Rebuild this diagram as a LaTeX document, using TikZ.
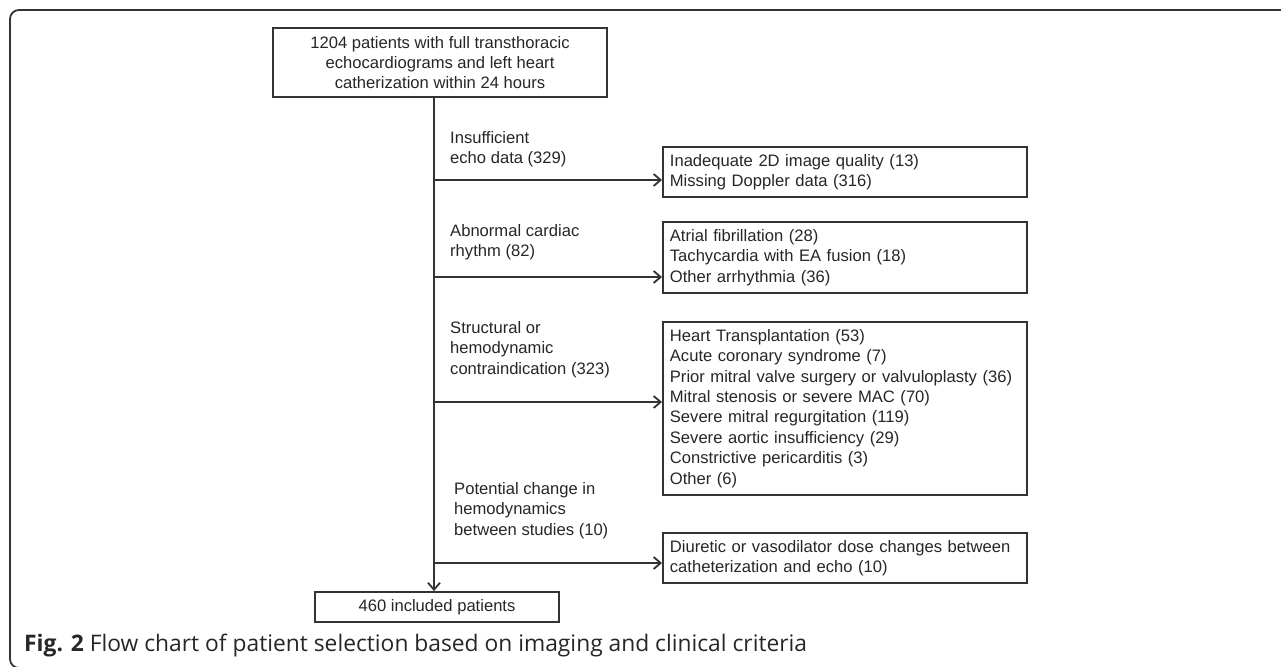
\documentclass[tikz,border=0pt]{standalone}
\usepackage{fontspec}
\setmainfont{Liberation Sans}
\newfontfamily\capfont{Open Sans}
\usetikzlibrary{arrows.meta}
\begin{document}
\begin{tikzpicture}[x=1pt,y=-1pt,
    every node/.style={font=\fontsize{16.6}{20.4}\selectfont, text=black!85},
    box/.style={draw=black!80, line width=1.8pt, inner sep=0pt},
    sidebox/.style={box, anchor=west, align=left, text width=350pt, inner xsep=7pt},
    crit/.style={anchor=north west, align=left, inner sep=0pt},
    conn/.style={draw=black!80, line width=1.8pt},
    flow/.style={conn, -{Straight Barb[length=7pt,width=12pt,line width=1.8pt]}}]
  \useasboundingbox (0,0) rectangle (1281,666);
  \begin{scope}
    \clip (0,0) rectangle (1281,666);
    \draw[conn, rounded corners=9pt] (1300,10) -- (10,10) -- (10,668) -- (60,668);
  \end{scope}

  \node[box, minimum width=334pt, minimum height=69pt, align=center] (total) at (440,62.5)
    {1204 patients with full transthoracic\\echocardiograms and left heart\\catherization within 24 hours};
  \node[sidebox, minimum height=50pt] (echo) at (662,172)
    {Inadequate 2D image quality (13)\\Missing Doppler data (316)};
  \node[sidebox, minimum height=71pt] (rhythm) at (662,257.5)
    {Atrial fibrillation (28)\\Tachycardia with EA fusion (18)\\Other arrhythmia (36)};
  \node[sidebox, minimum height=173pt] (struct) at (662,408.5)
    {Heart Transplantation (53)\\Acute coronary syndrome (7)\\Prior mitral valve surgery or valvuloplasty (36)\\Mitral stenosis or severe MAC (70)\\Severe mitral regurgitation (119)\\Severe aortic insufficiency (29)\\Constrictive pericarditis (3)\\Other (6)};
  \node[sidebox, minimum height=50pt] (hemo) at (662,558)
    {Diuretic or vasodilator dose changes between\\catheterization and echo (10)};
  \node[box, minimum width=244pt, minimum height=30pt] (incl) at (437,607) {460 included patients};

  \node[crit] (l1) at (450,131) {Insufficient\\echo data (329)};
  \node[crit] (l2) at (450,224) {Abnormal cardiac\\rhythm (82)};
  \node[crit] (l3) at (450,321) {Structural or\\hemodynamic\\contraindication (323)};
  \node[crit] (l4) at (454,482) {Potential change in\\hemodynamics\\between studies (10)};

  \coordinate (c1) at (434,180);
  \coordinate (c2) at (434,277);
  \coordinate (c3) at (434,402);
  \coordinate (c4) at (434,563);
  \draw[flow] (total.south -| c1) -- (incl.north -| c1);
  \draw[flow] (c1) -- (c1 -| echo.west);
  \draw[flow] (c2) -- (c2 -| rhythm.west);
  \draw[flow] (c3) -- (c3 -| struct.west);
  \draw[flow] (c4) -- (c4 -| hemo.west);

  \node[anchor=west, inner sep=0pt, font=\capfont\fontsize{22.8}{27}\selectfont] (cap) at (24,646)
    {\textbf{Fig. 2} Flow chart of patient selection based on imaging and clinical criteria};
\end{tikzpicture}
\end{document}
